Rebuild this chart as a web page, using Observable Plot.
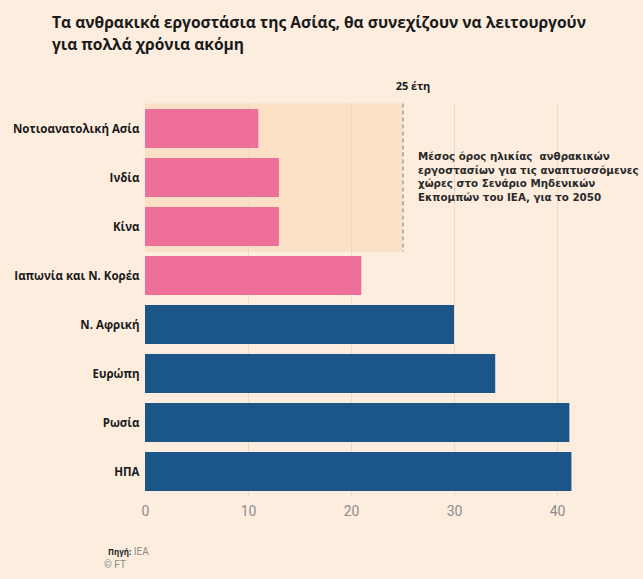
<!DOCTYPE html>
<html>
<head>
<meta charset="utf-8">
<script src="https://cdn.jsdelivr.net/npm/d3@7"></script>
<script src="https://cdn.jsdelivr.net/npm/@observablehq/plot@0.6"></script>
<style>
  html, body { margin: 0; padding: 0; background: #fdeddf; }
  #wrap { position: relative; width: 643px; height: 579px; background: #fdeddf; overflow: hidden; font-family: "Open Sans", "DejaVu Sans", sans-serif; }
  #title { position: absolute; left: 52px; top: 11px; width: 552px; font-size: 15.6px; font-weight: 700; line-height: 22px; color: #1a1a1a; }
  #chart { position: absolute; left: 0; top: 60px; }
  #source { position: absolute; left: 108px; top: 546px; font-size: 10px; color: #8a8a8a; font-family: "Liberation Sans Narrow", "Roboto", sans-serif; }
  #source b { font-family: "Open Sans", sans-serif; font-size: 8px; color: #222; }
  #copy { position: absolute; left: 104px; top: 559px; font-size: 10px; color: #8a8a8a; font-family: "Liberation Sans Narrow", "Roboto", sans-serif; }
</style>
</head>
<body>
<div id="wrap">
  <div id="title">Τα ανθρακικά εργοστάσια της Ασίας, θα συνεχίζουν να λειτουργούν για πολλά χρόνια ακόμη</div>
  <div id="chart"></div>
  <div id="source"><b>Πηγή:</b> IEA</div>
  <div id="copy">© FT</div>
</div>
<script>
const regions = ["Νοτιοανατολική Ασία", "Ινδία", "Κίνα", "Ιαπωνία και Ν. Κορέα", "Ν. Αφρική", "Ευρώπη", "Ρωσία", "ΗΠΑ"];
const ages = [11, 13, 13, 21, 30, 34, 41.2, 41.4];
const groups = ["Ασία", "Ασία", "Ασία", "Ασία", "Άλλες", "Άλλες", "Άλλες", "Άλλες"];
const groupNames = ["Ασία", "Άλλες"];
const groupColors = ["#ee6f9a", "#1c5689"];
const threshold = 25;
const thresholdLabel = "25 έτη";
const shadedRegions = ["Νοτιοανατολική Ασία", "Ινδία", "Κίνα"];
const annotationRow = "Ινδία";
const annotationText = "Μέσος όρος ηλικίας  ανθρακικών\nεργοστασίων για τις αναπτυσσόμενες\nχώρες στο Σενάριο Μηδενικών\nΕκπομπών του IEA, για το 2050";
const xTicks = [0, 10, 20, 30, 40];
const gridTicks = [10, 20, 30, 40];

const data = regions.map((r, i) => ({region: r, age: ages[i], group: groups[i]}));

const chart = Plot.plot({
  width: 643,
  height: 470,
  marginTop: 43,
  marginBottom: 34,
  marginLeft: 145,
  marginRight: 34.5,
  style: {background: "transparent", fontFamily: "Open Sans, sans-serif"},
  x: {domain: [0, 45]},
  y: {domain: regions, paddingInner: 0.214, paddingOuter: 0.117},
  color: {domain: groupNames, range: groupColors},
  marks: [
    Plot.barX(shadedRegions, {y: d => d, x1: 0, x2: threshold, fill: "#fce0c6", insetTop: -5.5, insetBottom: -5.5}),
    Plot.ruleX(gridTicks, {stroke: "#efd9c6", strokeWidth: 1}),
    Plot.barX(data, {y: "region", x: "age", fill: "group"}),
    Plot.tickX(shadedRegions, {x: () => threshold, y: d => d, insetTop: -5.5, insetBottom: -5.5, stroke: "#8c8c8c", strokeDasharray: "4,3", strokeWidth: 1.2}),
    Plot.text([thresholdLabel], {x: () => threshold, frameAnchor: "top", dy: -21, dx: 10, fontWeight: "bold", fontSize: 11, fill: "#1a1a1a"}),
    Plot.text([annotationText], {x: () => threshold, y: () => annotationRow, dx: 15, dy: -2, textAnchor: "start", lineHeight: 1.32, fontSize: 10.3, fontWeight: "bold", fill: "#2a2a2a", fontFamily: "DejaVu Sans, sans-serif"}),
    Plot.axisY({tickSize: 0, tickPadding: 6, fontSize: 11.5, fontWeight: "bold", fill: "#1a1a1a", label: null}),
    Plot.axisX({ticks: xTicks, tickSize: 0, tickPadding: 10, fontSize: 14, fill: "#8c8c8c", label: null, fontFamily: "Liberation Sans Narrow, Roboto, sans-serif"})
  ]
});
document.getElementById("chart").appendChild(chart);
</script>
</body>
</html>
